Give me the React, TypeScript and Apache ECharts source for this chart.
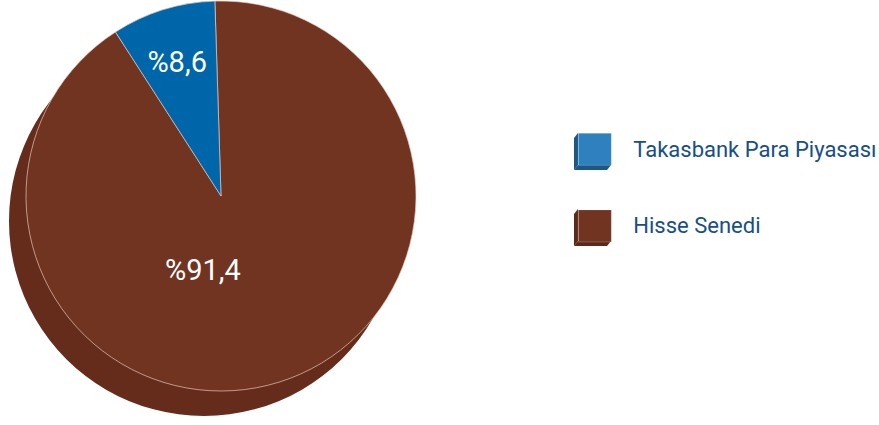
import React, { useEffect, useRef } from "react";
import * as echarts from "echarts";

const categories = ["Hisse Senedi", "Takasbank Para Piyasası"];
const values = [91.4, 8.6];
const sliceColors = ["#703420", "#0066AA"];
const legendOrder = ["Takasbank Para Piyasası", "Hisse Senedi"];
const legendColors = ["#2E80BE", "#703420"];
const legendSideColors = ["#1D5783", "#5C2A1A"];
const labelShift = [
  [-48, -22],
  [-14, -38],
];

export default function App() {
  const ref = useRef<HTMLDivElement>(null);
  useEffect(() => {
    document.body.style.margin = "0";
    const chart = echarts.init(ref.current!, undefined, { renderer: "svg" });
    const r = 195;
    const cx = 221;
    const cy = 196;
    const fmt = (v: number) => "%" + v.toFixed(1).replace(".", ",");
    const cubeGraphics: any[] = [];
    const legendLeft = 578;
    const legendTop = 133;
    const iw = 33;
    const ih = 32;
    const gap = 44;
    legendOrder.forEach((_, i) => {
      const x = legendLeft;
      const y = legendTop + i * (ih + gap);
      cubeGraphics.push({
        type: "polygon",
        shape: {
          points: [
            [x, y],
            [x - 4, y + 5],
            [x - 4, y + ih + 5],
            [x, y + ih],
          ],
        },
        style: { fill: legendSideColors[i] },
        silent: true,
      });
      cubeGraphics.push({
        type: "polygon",
        shape: {
          points: [
            [x, y + ih],
            [x - 4, y + ih + 5],
            [x + iw - 4, y + ih + 5],
            [x + iw, y + ih],
          ],
        },
        style: { fill: legendSideColors[i] },
        silent: true,
      });
    });
    chart.setOption({
      animation: false,
      legend: {
        orient: "vertical",
        left: legendLeft,
        top: legendTop,
        padding: 0,
        itemWidth: iw,
        itemHeight: ih,
        itemGap: gap,
        icon: "rect",
        selectedMode: false,
        data: legendOrder.map((n, i) => ({
          name: n,
          itemStyle: { color: legendColors[i], borderColor: "rgba(255,255,255,0.35)", borderWidth: 0.6 },
        })),
        textStyle: {
          fontFamily: "Roboto",
          fontSize: 22,
          color: "#174E88",
          padding: [3, 0, 0, 17],
        },
      },
      graphic: cubeGraphics,
      series: [
        {
          type: "pie",
          silent: true,
          center: [cx - 17, cy + 25],
          radius: [0, r],
          startAngle: 90,
          label: { show: false },
          labelLine: { show: false },
          itemStyle: { color: "#652C1C", borderWidth: 0 },
          data: [{ name: "_side", value: 1 }],
          z: 1,
        },
        {
          type: "pie",
          center: [cx, cy],
          radius: [0, r],
          startAngle: 91.8,
          clockwise: true,
          z: 2,
          label: {
            show: true,
            position: "inside",
            fontFamily: "Roboto",
            fontSize: 29,
            color: "#ffffff",
            formatter: (p: any) => fmt(p.value),
          },
          labelLayout: (p: any) => ({ dx: labelShift[p.dataIndex][0], dy: labelShift[p.dataIndex][1] }),
          labelLine: { show: false },
          data: categories.map((c, i) => ({
            name: c,
            value: values[i],
            itemStyle: {
              color: sliceColors[i],
              borderColor: "rgba(235,205,190,0.85)",
              borderWidth: 0.8,
            },
          })),
        },
      ],
    });
    return () => chart.dispose();
  }, []);
  return <div ref={ref} style={{ width: 879, height: 425 }} />;
}
